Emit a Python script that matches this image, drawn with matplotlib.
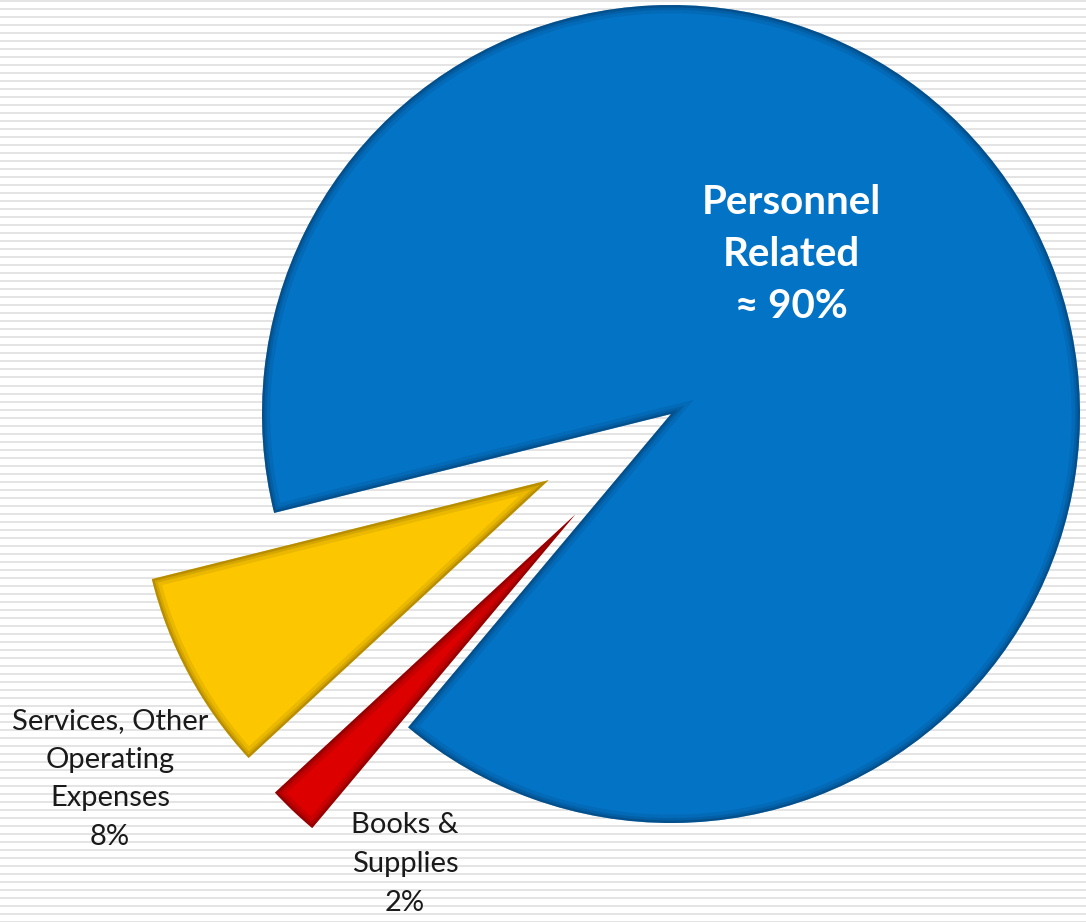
import numpy as np
import matplotlib.pyplot as plt
from matplotlib.patches import Wedge

# data
shares = [90, 8, 2]
labels = ['Personnel\nRelated\n≈ 90%',
          'Services, Other\nOperating\nExpenses\n8%',
          'Books &\nSupplies\n2%']
colors = ['#0373c6', '#fdc700', '#dc0000']
dark = ['#052a50', '#6e4f00', '#4a0000']
explode = [0, 0.34, 0.34]

W, H = 1086, 922
fig = plt.figure(figsize=(W / 100, H / 100), dpi=100)

# striped background
bg = fig.add_axes([0, 0, 1, 1])
bg.set_xlim(0, W)
bg.set_ylim(H, 0)
bg.axis('off')
bg.hlines(np.arange(1.5, H, 8), 0, W, color='#dcdcdc', lw=1.1)

ax = fig.add_axes([0, 0, 1, 1])
ax.patch.set_alpha(0)
wedges, _ = ax.pie(shares, colors=colors, explode=explode, startangle=230,
                   counterclock=True, radius=1, wedgeprops=dict(linewidth=0))

# soft bevel on the slice edges
for w, d in zip(wedges, dark):
    for lw, a in [(12, 0.12), (7, 0.17), (3.5, 0.28)]:
        p = Wedge(w.center, w.r, w.theta1, w.theta2, fc='none', ec=d, lw=lw, alpha=a)
        ax.add_patch(p)
        p.set_clip_path(w)

# centre at pixel (671, 414), radius 409 px
r_px = 409
ax.set_xlim(-671 / r_px, (W - 671) / r_px)
ax.set_ylim(-(H - 414) / r_px, 414 / r_px)
ax.set_aspect('auto')
ax.axis('off')

fam = ['Lato', 'DejaVu Sans']
fig.text(791 / W, 1 - 255 / H, labels[0], ha='center', va='center', color='white',
         fontsize=29, fontweight='bold', family=fam, linespacing=1.5)
fig.text(110 / W, 1 - 779 / H, labels[1], ha='center', va='center', color='#1a1a1a',
         fontsize=21, family=fam, linespacing=1.6)
fig.text(405 / W, 1 - 864 / H, labels[2], ha='center', va='center', color='#1a1a1a',
         fontsize=21, family=fam, linespacing=1.6)

fig.savefig('out.png', dpi=100)
